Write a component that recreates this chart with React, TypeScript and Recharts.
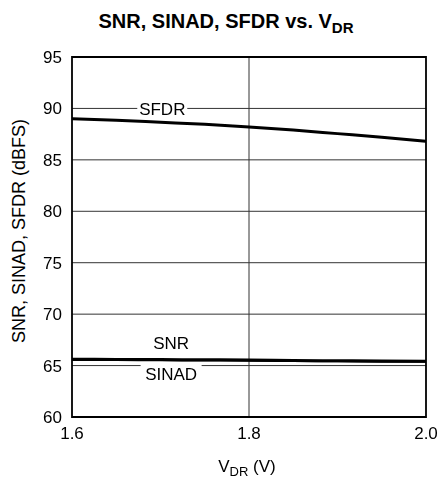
import {
  CartesianGrid,
  Line,
  LineChart,
  ReferenceArea,
  ReferenceDot,
  XAxis,
  YAxis,
} from "recharts";

const vdr = [1.6, 1.65, 1.7, 1.75, 1.8, 1.85, 1.9, 1.95, 2.0];
const sfdr = [89.0, 88.85, 88.65, 88.45, 88.2, 87.9, 87.55, 87.2, 86.8];
const snr = [65.62, 65.6, 65.58, 65.56, 65.54, 65.5, 65.47, 65.44, 65.42];
const sinad = [65.55, 65.53, 65.51, 65.49, 65.47, 65.44, 65.41, 65.38, 65.36];
const xTicks = [1.6, 1.8, 2.0];
const yTicks = [60, 65, 70, 75, 80, 85, 90, 95];

const data = vdr.map((v, i) => ({ v, sfdr: sfdr[i], snr: snr[i], sinad: sinad[i] }));

const font = "Arial, 'Liberation Sans', sans-serif";

function boxLabel(text: string, dy: number) {
  return (props: any) => {
    const { viewBox } = props;
    const cx = viewBox.x + viewBox.width / 2;
    const cy = viewBox.y + viewBox.height / 2 + dy;
    const w = text.length * 11 + 6;
    return (
      <g>
        <rect x={cx - w / 2} y={cy - 9} width={w} height={18} fill="#fff" />
        <text x={cx} y={cy} dy="0.36em" textAnchor="middle" fontSize={17} fontFamily={font} fill="#000">
          {text}
        </text>
      </g>
    );
  };
}

export default function App() {
  return (
    <div style={{ position: "fixed", left: 0, top: 0, width: 444, height: 480, background: "#fff", fontFamily: font }}>
      <div style={{ position: "absolute", top: 10, left: 0, width: 452, textAlign: "center", fontWeight: "bold", fontSize: 20 }}>
        SNR, SINAD, SFDR vs. V<sub style={{ fontSize: 15 }}>DR</sub>
      </div>
      <div
        style={{
          position: "absolute",
          left: 19,
          top: 231,
          transform: "translate(-50%, -50%) rotate(-90deg)",
          whiteSpace: "nowrap",
          fontSize: 18,
        }}
      >
        SNR, SINAD, SFDR (dBFS)
      </div>
      <div style={{ position: "absolute", top: 457, left: 0, width: 494, textAlign: "center", fontSize: 17 }}>
        V<sub style={{ fontSize: 13 }}>DR</sub> (V)
      </div>
      <LineChart width={444} height={480} data={data} margin={{ top: 57, right: 18, bottom: 33, left: 0 }}>
        <CartesianGrid stroke="#333" strokeWidth={1} verticalPoints={[249]} horizontalValues={yTicks} />
        <XAxis
          dataKey="v"
          type="number"
          domain={[1.6, 2.0]}
          ticks={xTicks}
          tickFormatter={(v: number) => v.toFixed(1)}
          axisLine={false}
          tickLine={false}
          tickMargin={4}
          tick={{ fontSize: 17, fill: "#000", fontFamily: font }}
          height={30}
        />
        <YAxis
          type="number"
          domain={[60, 95]}
          ticks={yTicks}
          axisLine={false}
          tickLine={false}
          tickSize={0}
          tickMargin={10}
          width={72}
          tick={{ fontSize: 17, fill: "#000", fontFamily: font }}
        />
        <ReferenceArea x1={1.6} x2={2.0} y1={60} y2={95} fill="none" stroke="#000" strokeWidth={1.8} ifOverflow="visible" />
        <Line dataKey="sfdr" stroke="#000" strokeWidth={3} dot={false} type="monotone" isAnimationActive={false} />
        <Line dataKey="snr" stroke="#000" strokeWidth={3} dot={false} type="monotone" isAnimationActive={false} />
        <Line dataKey="sinad" stroke="#000" strokeWidth={2} dot={false} type="monotone" isAnimationActive={false} />
        <ReferenceDot x={1.702} y={90} r={0} fill="none" stroke="none" label={boxLabel("SFDR", 0)} />
        <ReferenceDot x={1.712} y={67.2} r={0} fill="none" stroke="none" label={boxLabel("SNR", 0)} />
        <ReferenceDot x={1.712} y={65} r={0} fill="none" stroke="none" label={boxLabel("SINAD", 8)} />
      </LineChart>
    </div>
  );
}
